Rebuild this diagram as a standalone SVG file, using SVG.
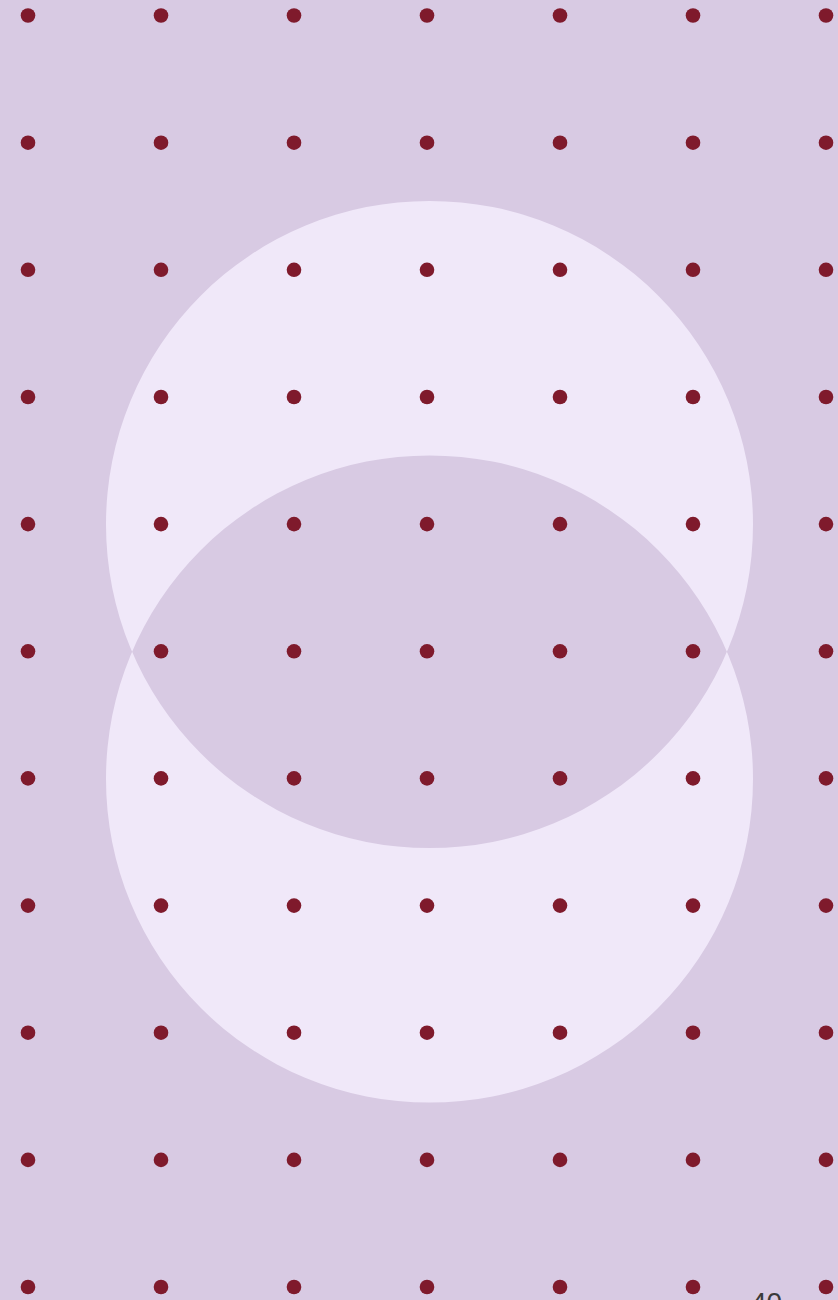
<svg xmlns="http://www.w3.org/2000/svg" width="838" height="1300" viewBox="0 0 838 1300">
<style>
.dot{fill:#7f1a2c}
.lbl{font-family:"Liberation Sans",Arial,sans-serif;font-size:28px;fill:#3a3a3a}
</style>
<defs><circle id="d" r="7.3" class="dot"/></defs>
<rect width="838" height="1300" fill="#d8cae3"/>
<g id="circles">
<path fill="#f0e8f9" fill-rule="evenodd" d="M106,524.5 a323.5,323.5 0 1,0 647,0 a323.5,323.5 0 1,0 -647,0 Z M106,779 a323.5,323.5 0 1,0 647,0 a323.5,323.5 0 1,0 -647,0 Z"/>
</g>
<g id="dots">
<g id="row0" transform="translate(0,15.5)"><use href="#d" x="28"/><use href="#d" x="161"/><use href="#d" x="294"/><use href="#d" x="427"/><use href="#d" x="560"/><use href="#d" x="693"/><use href="#d" x="826"/></g>
<g id="row1" transform="translate(0,142.7)"><use href="#d" x="28"/><use href="#d" x="161"/><use href="#d" x="294"/><use href="#d" x="427"/><use href="#d" x="560"/><use href="#d" x="693"/><use href="#d" x="826"/></g>
<g id="row2" transform="translate(0,269.8)"><use href="#d" x="28"/><use href="#d" x="161"/><use href="#d" x="294"/><use href="#d" x="427"/><use href="#d" x="560"/><use href="#d" x="693"/><use href="#d" x="826"/></g>
<g id="row3" transform="translate(0,397)"><use href="#d" x="28"/><use href="#d" x="161"/><use href="#d" x="294"/><use href="#d" x="427"/><use href="#d" x="560"/><use href="#d" x="693"/><use href="#d" x="826"/></g>
<g id="row4" transform="translate(0,524.1)"><use href="#d" x="28"/><use href="#d" x="161"/><use href="#d" x="294"/><use href="#d" x="427"/><use href="#d" x="560"/><use href="#d" x="693"/><use href="#d" x="826"/></g>
<g id="row5" transform="translate(0,651.3)"><use href="#d" x="28"/><use href="#d" x="161"/><use href="#d" x="294"/><use href="#d" x="427"/><use href="#d" x="560"/><use href="#d" x="693"/><use href="#d" x="826"/></g>
<g id="row6" transform="translate(0,778.4)"><use href="#d" x="28"/><use href="#d" x="161"/><use href="#d" x="294"/><use href="#d" x="427"/><use href="#d" x="560"/><use href="#d" x="693"/><use href="#d" x="826"/></g>
<g id="row7" transform="translate(0,905.6)"><use href="#d" x="28"/><use href="#d" x="161"/><use href="#d" x="294"/><use href="#d" x="427"/><use href="#d" x="560"/><use href="#d" x="693"/><use href="#d" x="826"/></g>
<g id="row8" transform="translate(0,1032.7)"><use href="#d" x="28"/><use href="#d" x="161"/><use href="#d" x="294"/><use href="#d" x="427"/><use href="#d" x="560"/><use href="#d" x="693"/><use href="#d" x="826"/></g>
<g id="row9" transform="translate(0,1159.9)"><use href="#d" x="28"/><use href="#d" x="161"/><use href="#d" x="294"/><use href="#d" x="427"/><use href="#d" x="560"/><use href="#d" x="693"/><use href="#d" x="826"/></g>
<g id="row10" transform="translate(0,1287)"><use href="#d" x="28"/><use href="#d" x="161"/><use href="#d" x="294"/><use href="#d" x="427"/><use href="#d" x="560"/><use href="#d" x="693"/><use href="#d" x="826"/></g>
</g>
<g id="page-number"><text class="lbl" x="751" y="1312">40</text></g>
</svg>
